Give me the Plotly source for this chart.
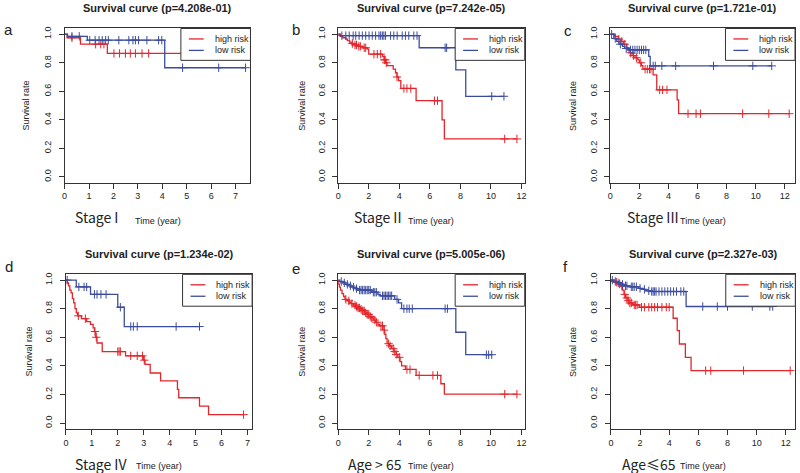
import plotly.graph_objects as go

W, H = 800, 473
RED = "#E3262B"
BLUE = "#3B4C9E"
INK = "#222222"

# ---- panel a: Stage I ----
a_high_time = [0.1, 0.65, 1.75]
a_high_surv = [0.975, 0.93, 0.865]
a_high_cens = [0.3, 1.27, 1.48, 1.61, 2.02, 2.25, 2.49, 2.69, 2.9, 3.17, 3.44, 5.9]
a_low_time = [0.12, 0.93, 4.1]
a_low_surv = [0.985, 0.958, 0.765]
a_low_cens = [0.3, 0.6, 1.03, 1.25, 1.41, 1.54, 1.68, 1.79, 2.22, 2.63, 2.8, 2.9,
              3.03, 3.37, 3.85, 3.98, 4.83, 6.31, 7.41]

# ---- panel b: Stage II ----
b_high_time = [0.15, 0.3, 0.5, 0.6, 0.75, 0.85, 1.0, 1.3, 1.6, 1.9, 2.0, 2.9, 3.0, 3.1,
               3.2, 3.6, 3.75, 3.85, 3.95, 4.1, 5.1, 6.8, 6.95]
b_high_surv = [0.985, 0.975, 0.965, 0.955, 0.945, 0.935, 0.925, 0.915, 0.905, 0.895, 0.86,
               0.845, 0.82, 0.80, 0.78, 0.755, 0.73, 0.70, 0.675, 0.62, 0.534, 0.40, 0.266]
b_high_cens = [0.93, 1.1, 1.2, 1.35, 1.45, 1.7, 1.8, 2.34, 2.56, 2.78, 3.02, 3.08, 3.15,
               3.85, 4.3, 4.5, 4.75, 6.3, 6.5, 10.9, 11.7]
b_low_time = [0.1, 5.3, 7.7, 8.35]
b_low_surv = [0.99, 0.905, 0.75, 0.565]
b_low_cens = [0.24, 0.5, 0.72, 0.98, 1.15, 1.37, 1.58, 1.8, 2.02, 2.23, 2.45, 2.67, 2.78,
              2.89, 2.99, 3.1, 3.43, 3.64, 3.86, 4.19, 4.4, 4.62, 4.95, 5.16, 7.0, 7.1,
              10.05, 10.85]

# ---- panel c: Stage III ----
c_high_time = [0.3, 0.55, 0.75, 0.9, 1.15, 1.3, 1.5, 1.7, 1.9, 2.0, 2.15, 2.25, 2.95,
               3.2, 4.6, 4.7]
c_high_surv = [0.985, 0.965, 0.95, 0.93, 0.905, 0.87, 0.85, 0.835, 0.82, 0.80, 0.78,
               0.755, 0.715, 0.61, 0.54, 0.443]
c_high_cens = [0.6, 0.8, 1.0, 1.4, 1.6, 1.8, 2.1, 2.4, 2.55, 2.7, 2.8, 3.4, 3.6, 3.9,
               5.35, 5.9, 6.2, 9.1, 10.9, 12.3]
c_low_time = [0.25, 0.45, 0.6, 0.85, 1.0, 1.2, 2.65, 2.75]
c_low_surv = [0.97, 0.95, 0.93, 0.915, 0.90, 0.89, 0.845, 0.778]
c_low_cens = [0.1, 0.35, 0.7, 1.1, 1.4, 1.55, 1.7, 1.85, 2.0, 2.15, 2.3, 2.45, 2.95, 3.1,
              3.55, 4.5, 7.1, 9.8, 11.1]

# ---- panel d: Stage IV ----
d_high_time = [0.05, 0.1, 0.15, 0.2, 0.25, 0.3, 0.35, 0.4, 0.45, 0.6, 0.8, 0.95, 1.05,
               1.1, 1.15, 1.2, 1.4, 2.3, 3.0, 3.05, 3.25, 3.65, 4.3, 4.35, 5.15, 5.5]
d_high_surv = [0.98, 0.96, 0.93, 0.91, 0.87, 0.84, 0.80, 0.77, 0.75, 0.73, 0.71, 0.69,
               0.665, 0.64, 0.60, 0.56, 0.50, 0.47, 0.44, 0.41, 0.35, 0.295, 0.235,
               0.177, 0.118, 0.059]
d_high_cens = [0.48, 0.75, 1.12, 1.17, 2.0, 2.05, 2.1, 2.5, 2.75, 2.95, 3.02, 6.85]
d_low_time = [0.4, 0.95, 2.0, 2.25]
d_low_surv = [0.952, 0.90, 0.81, 0.675]
d_low_cens = [0.05, 0.5, 0.7, 0.8, 1.1, 1.2, 1.35, 1.55, 2.1, 2.5, 2.6, 2.75, 4.25, 5.15]

# ---- panel e: Age > 65 ----
e_high_time = [0.03, 0.08, 0.15, 0.25, 0.35, 0.45, 0.6, 0.72, 0.85, 1.0, 1.15, 1.3, 1.45,
               1.6, 1.75, 1.9, 2.02, 2.15, 2.3, 2.45, 2.6, 2.7, 3.0, 3.05, 3.12, 3.2,
               3.35, 3.5, 3.65, 3.8, 3.9, 4.05, 4.15, 4.4, 5.1, 6.72, 6.95]
e_high_surv = [0.97, 0.95, 0.93, 0.905, 0.885, 0.865, 0.855, 0.845, 0.835, 0.825, 0.815,
               0.805, 0.795, 0.785, 0.77, 0.76, 0.745, 0.735, 0.72, 0.705, 0.69, 0.68,
               0.65, 0.62, 0.59, 0.555, 0.54, 0.52, 0.50, 0.48, 0.46, 0.43, 0.40, 0.375,
               0.333, 0.275, 0.202]
e_high_cens = [0.5, 0.7, 0.9, 1.1, 1.2, 1.3, 1.4, 1.5, 1.6, 1.7, 1.8, 1.9, 2.0, 2.1, 2.2,
               2.4, 2.5, 2.8, 2.9, 3.0, 3.3, 3.4, 3.6, 3.7, 3.8, 4.0, 4.5, 4.7, 5.3, 6.2,
               6.5, 10.9, 11.7]
e_low_time = [0.1, 0.3, 0.5, 0.7, 0.9, 1.1, 1.3, 2.2, 2.6, 2.75, 3.7, 3.95, 4.15, 7.7, 8.35]
e_low_surv = [0.99, 0.98, 0.97, 0.96, 0.95, 0.94, 0.93, 0.915, 0.90, 0.89, 0.865, 0.84,
              0.80, 0.635, 0.478]
e_low_cens = [0.2, 0.4, 0.6, 0.8, 1.0, 1.2, 1.4, 1.5, 1.6, 1.7, 1.8, 1.9, 2.0, 2.1, 2.3,
              2.4, 2.5, 2.9, 3.0, 3.1, 3.2, 3.3, 3.4, 3.5, 3.85, 4.3, 4.5, 4.65, 4.85,
              7.0, 7.15, 9.7, 9.85, 10.05]

# ---- panel f: Age <= 65 ----
f_high_time = [0.2, 0.45, 0.65, 0.8, 0.9, 1.0, 1.12, 1.25, 1.5, 1.95, 4.27, 4.55, 4.7,
               5.11, 5.5]
f_high_surv = [0.985, 0.972, 0.958, 0.93, 0.90, 0.875, 0.856, 0.84, 0.826, 0.81, 0.733,
               0.647, 0.553, 0.46, 0.367]
f_high_cens = [0.4, 0.6, 0.75, 0.95, 1.1, 1.2, 1.3, 1.4, 1.6, 1.7, 1.8, 2.1, 2.3, 2.6,
               2.8, 3.0, 3.2, 3.5, 3.8, 4.0, 6.5, 6.85, 9.1, 12.3]
f_low_time = [0.2, 0.45, 0.7, 0.9, 1.25, 1.9, 2.15, 2.4, 2.7, 5.16]
f_low_surv = [0.99, 0.98, 0.97, 0.96, 0.953, 0.942, 0.935, 0.925, 0.92, 0.815]
f_low_cens = [0.1, 0.3, 0.55, 0.8, 1.0, 1.1, 1.4, 1.5, 1.6, 1.75, 2.0, 2.3, 2.6, 2.8,
              2.9, 3.0, 3.1, 3.3, 3.5, 3.7, 3.9, 4.1, 4.3, 4.5, 4.8, 5.0, 6.3, 7.3, 8.0,
              9.7, 10.9, 11.1]

panels = [
    dict(letter="a", p="4.208e-01", group="Stage I",
         high=(a_high_time, a_high_surv, a_high_cens), low=(a_low_time, a_low_surv, a_low_cens)),
    dict(letter="b", p="7.242e-05", group="Stage II",
         high=(b_high_time, b_high_surv, b_high_cens), low=(b_low_time, b_low_surv, b_low_cens)),
    dict(letter="c", p="1.721e-01", group="Stage III",
         high=(c_high_time, c_high_surv, c_high_cens), low=(c_low_time, c_low_surv, c_low_cens)),
    dict(letter="d", p="1.234e-02", group="Stage IV",
         high=(d_high_time, d_high_surv, d_high_cens), low=(d_low_time, d_low_surv, d_low_cens)),
    dict(letter="e", p="5.005e-06", group="Age > 65",
         high=(e_high_time, e_high_surv, e_high_cens), low=(e_low_time, e_low_surv, e_low_cens)),
    dict(letter="f", p="2.327e-03", group="Age≤65",
         high=(f_high_time, f_high_surv, f_high_cens), low=(f_low_time, f_low_surv, f_low_cens)),
]

# pixel layout of each panel: plot box, x max, tick step, letter pos, group label centre
geo = [
    dict(box=(62, 26.6, 249, 181.4), xmax=7.61, dt=1, letter=(6, 28), gx=94, ylab=23),
    dict(box=(337.3, 26.6, 525, 181.4), xmax=12.21, dt=2, letter=(294.5, 28), gx=377, ylab=300),
    dict(box=(611, 26.6, 797, 181.4), xmax=12.70, dt=2, letter=(568.5, 28.5), gx=654, ylab=573),
    dict(box=(63.3, 273.5, 250.7, 428.6), xmax=7.18, dt=1, letter=(6.5, 266), gx=98.5, ylab=26),
    dict(box=(337.3, 273.5, 525, 428.6), xmax=12.21, dt=2, letter=(294.5, 267.5), gx=374, ylab=300),
    dict(box=(611.7, 273.5, 797.3, 428.6), xmax=12.65, dt=2, letter=(566, 266), gx=650, ylab=573),
]


def px(x):
    return x / W


def py(y):
    return 1 - y / H


def surv_at(t, times, surv):
    s = 1.0
    for ti, si in zip(times, surv):
        if ti <= t:
            s = si
    return s


fig = go.Figure()
annotations = []
shapes = []
layout = {}

for i, (pn, g) in enumerate(zip(panels, geo), start=1):
    xa, ya = f"x{i}", f"y{i}"
    for key, color in (("high", RED), ("low", BLUE)):
        times, surv, cens = pn[key]
        end = max(times + cens)
        fig.add_trace(go.Scatter(
            x=[0] + times + [end], y=[1.0] + surv + [surv[-1]],
            mode="lines", line=dict(color=color, width=1.3, shape="hv"),
            xaxis=xa, yaxis=ya, showlegend=False,
            name=f"{key} risk"))
        fig.add_trace(go.Scatter(
            x=cens, y=[surv_at(t, times, surv) for t in cens],
            mode="markers",
            marker=dict(symbol="cross-thin", size=6, line=dict(color=color, width=1)),
            xaxis=xa, yaxis=ya, showlegend=False, hoverinfo="skip"))

    l, t, r, b = g["box"]
    n = int(g["xmax"] // g["dt"])
    xs = "" if i == 1 else str(i)
    layout[f"xaxis{xs}"] = dict(
        domain=[px(l), px(r)], anchor=ya, range=[0, g["xmax"]],
        tickvals=[k * g["dt"] for k in range(n + 1)],
        showline=True, mirror=True, linecolor="#333", linewidth=1,
        ticks="outside", ticklen=5, tickcolor="#333",
        tickfont=dict(size=9, color=INK, family="Liberation Sans, Arial"),
        showgrid=False, zeroline=False)
    layout[f"yaxis{xs}"] = dict(
        domain=[py(b), py(t)], anchor=xa, range=[-0.04, 1.04],
        tickvals=[0, 0.2, 0.4, 0.6, 0.8, 1.0], tickformat=".1f", tickangle=-90,
        showline=True, mirror=True, linecolor="#333", linewidth=1,
        ticks="outside", ticklen=5, tickcolor="#333", ticklabelstandoff=4,
        tickfont=dict(size=9, color=INK, family="Liberation Sans, Arial"),
        showgrid=False, zeroline=False)

    cx = (l + r) / 2
    top_row = i <= 3
    # title
    annotations.append(dict(
        x=px(cx), y=py(6 if top_row else 253), xref="paper", yref="paper",
        text=f"<b>Survival curve (p={pn['p']})</b>", showarrow=False,
        font=dict(size=11, color=INK, family="Liberation Sans, Arial"),
        xanchor="center", yanchor="middle"))
    # panel letter
    annotations.append(dict(
        x=px(g["letter"][0]), y=py(g["letter"][1]), xref="paper", yref="paper",
        text=pn["letter"], showarrow=False,
        font=dict(size=15, color=INK, family="Liberation Sans, Arial"),
        xanchor="center", yanchor="middle"))
    # x label
    annotations.append(dict(
        x=px(cx), y=py(220 if top_row else 466), xref="paper", yref="paper",
        text="Time (year)", showarrow=False,
        font=dict(size=9, color=INK, family="Liberation Sans, Arial"),
        xanchor="center", yanchor="middle"))
    # group label
    annotations.append(dict(
        x=px(g["gx"]), y=py(216 if top_row else 464), xref="paper", yref="paper",
        text=pn["group"], showarrow=False,
        font=dict(size=14, color=INK, family="Noto Sans CJK SC"),
        xanchor="center", yanchor="middle"))
    # y label
    annotations.append(dict(
        x=px(g["ylab"]), y=py((t + b) / 2), xref="paper", yref="paper",
        text="Survival rate", showarrow=False, textangle=-90,
        font=dict(size=9, color=INK, family="Liberation Sans, Arial"),
        xanchor="center", yanchor="middle"))

    # legend box (top-right, opaque)
    lx = r - 70
    shapes.append(dict(type="rect", xref="paper", yref="paper", layer="above",
                       x0=px(lx), x1=px(r), y0=py(t + 32), y1=py(t),
                       fillcolor="white", line=dict(color="#333", width=1)))
    for k, (lab, color) in enumerate((("high risk", RED), ("low risk", BLUE))):
        yy = t + 10.5 + k * 11.5
        shapes.append(dict(type="line", xref="paper", yref="paper", layer="above",
                           x0=px(lx + 8), x1=px(lx + 23), y0=py(yy), y1=py(yy),
                           line=dict(color=color, width=1.3)))
        annotations.append(dict(
            x=px(lx + 32), y=py(yy), xref="paper", yref="paper",
            text=lab, showarrow=False,
            font=dict(size=9, color=INK, family="Liberation Sans, Arial"),
            xanchor="left", yanchor="middle"))

fig.update_layout(
    width=W, height=H, autosize=False,
    margin=dict(l=0, r=0, t=0, b=0),
    paper_bgcolor="white", plot_bgcolor="white",
    annotations=annotations, shapes=shapes,
    **layout)

# drop the browser's default body margin so the 800x473 figure fills the window
fig.write_html("out.html", config={"displayModeBar": False},
               post_script="document.body.style.margin='0';")
